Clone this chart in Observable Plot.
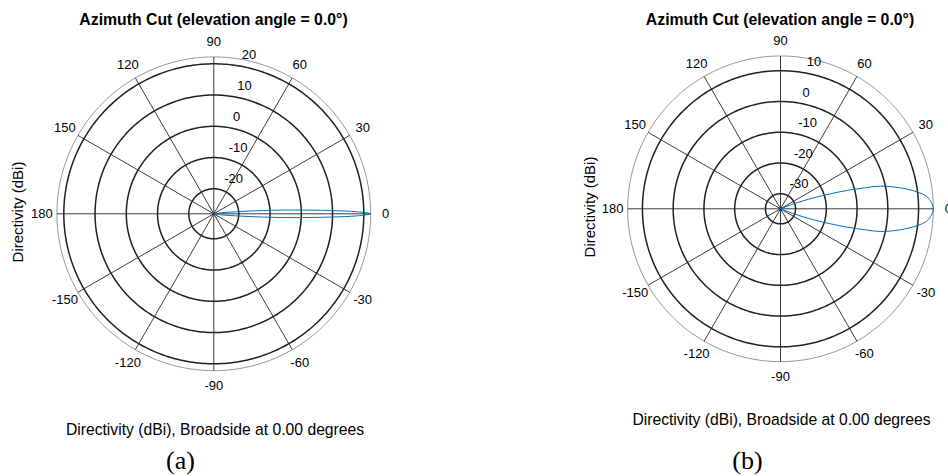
<!DOCTYPE html>
<html><head><meta charset="utf-8">
<script src="https://cdn.jsdelivr.net/npm/d3@7"></script>
<script src="https://cdn.jsdelivr.net/npm/@observablehq/plot@0.6"></script>
<style>
body{margin:0;background:#fff;}
#wrap{position:relative;width:948px;height:476px;overflow:hidden;font-family:"Liberation Sans",Arial,sans-serif;color:#000;background:#fff;}
.panel{position:absolute;top:0;width:474px;height:476px;}
.panel svg{position:absolute;left:0;top:0;overflow:visible;}
.t{position:absolute;white-space:nowrap;transform:translate(-50%,-50%);line-height:1;}
.title{font-weight:bold;font-size:15.8px;}
.ylab{font-size:15px;transform:translate(-50%,-50%) rotate(-90deg);}
.cap{font-size:15.7px;}
.tag{font-family:"Liberation Serif","Times New Roman",serif;font-size:26px;}
</style></head><body><div id="wrap"></div>
<script>
// ---- data ----
const angleTicks = [0, 30, 60, 90, 120, 150, 180, -150, -120, -90, -60, -30];
const angleTickLabels = ["0", "30", "60", "90", "120", "150", "180", "-150", "-120", "-90", "-60", "-30"];

const ringTicksA = [-20, -10, 0, 10, 20];
const magLimitsA = [-28, 22.2];
const azimuthA = [-10, -8, -4.9, -3.5, -2.7, -1.6, -0.8, 0, 0.8, 1.6, 2.7, 3.5, 4.9, 8, 10];
const directivityA = [-28, -25.7, -19.3, -9.7, -2.4, 9.4, 18, 22.2, 18, 9.4, -2.4, -9.7, -19.3, -25.7, -28];

const ringTicksB = [-30, -20, -10, 0, 10];
const magLimitsB = [-34.9, 14.8];
const azimuthB = [-22, -20.6, -18.3, -16.7, -15.4, -13.9, -12.8, -9.9, -7, -4.6, 0, 4.6, 7, 9.9, 12.8, 13.9, 15.4, 16.7, 18.3, 20.6, 22];
const directivityB = [-34.9, -30.3, -23.5, -17.9, -12.4, -6.4, -1.6, 4.7, 9.9, 13.0, 14.8, 13.0, 9.9, 4.7, -1.6, -6.4, -12.4, -17.9, -23.5, -30.3, -34.9];

const titleText = "Azimuth Cut (elevation angle = 0.0°)";
const yLabelText = "Directivity (dBi)";
const captionText = "Directivity (dBi), Broadside at 0.00 degrees";

// ---- drawing ----
const W = 474, H = 476;
const rad = d => d * Math.PI / 180;

function polarPanel(cfg) {
  const [mn, mx] = cfg.limits;
  const k = cfg.pxPerDb;
  const pol = (db, deg) => ({x: (db - mn) * Math.cos(rad(deg)), y: (db - mn) * Math.sin(rad(deg))});
  const circle = (db) => d3.range(0, 361, 1).map(a => pol(db, a));
  const rings = cfg.rings.map(v => circle(v));
  const outer = circle(mx);
  const spokes = cfg.angles.map(a => { const e = pol(mx, a); return {x1: 0, y1: 0, x2: e.x, y2: e.y}; });
  const angLabels = cfg.angles.map((a, i) => ({...pol(mx + 15 / k, a), label: cfg.angleLabels[i]}));
  const ringLabels = cfg.rings.map(v => ({...pol(v, 82), label: String(v)}));
  const pattern = cfg.az.map((a, i) => pol(cfg.dir[i], a));
  const cx = cfg.cx, cy = cfg.cy;
  return Plot.plot({
    width: W, height: H, margin: 0,
    x: {domain: [-cx / k, (W - cx) / k], axis: null},
    y: {domain: [-(H - cy) / k, cy / k], axis: null},
    style: {fontFamily: "'Liberation Sans', Arial, sans-serif", fontSize: "13px", background: "transparent", overflow: "visible", color: "#000"},
    marks: [
      Plot.line(outer, {x: "x", y: "y", stroke: "#6a6a6a", strokeWidth: 0.7}),
      ...rings.map(r => Plot.line(r, {x: "x", y: "y", stroke: "#202020", strokeWidth: 1.5})),
      Plot.link(spokes, {x1: "x1", y1: "y1", x2: "x2", y2: "y2", stroke: "#262626", strokeWidth: 0.9}),
      Plot.line(pattern, {x: "x", y: "y", stroke: "#0072BD", strokeWidth: 1, curve: "catmull-rom"}),
      Plot.text(angLabels, {x: "x", y: "y", text: "label", fill: "#000", fontSize: 13}),
      Plot.text(ringLabels, {x: "x", y: "y", text: "label", fill: "#000", fontSize: 13, textAnchor: "start", dx: 7, dy: -10})
    ]
  });
}

function addText(panel, cls, txt, x, y) {
  const d = document.createElement("div");
  d.className = "t " + cls;
  d.textContent = txt;
  d.style.left = x + "px";
  d.style.top = y + "px";
  panel.appendChild(d);
}

const wrap = document.getElementById("wrap");
const panels = [
  {left: 0, cx: 213.3, cy: 213.3, pxPerDb: 3.125, limits: magLimitsA, rings: ringTicksA, az: azimuthA, dir: directivityA, tag: "(a)",
   title: [213.5, 20], ylab: [17, 211.5], cap: [215, 430], tagPos: [180.5, 461]},
  {left: 474, cx: 306, cy: 208.3, pxPerDb: 3.075, limits: magLimitsB, rings: ringTicksB, az: azimuthB, dir: directivityB, tag: "(b)",
   title: [306, 20], ylab: [115, 206.5], cap: [307.5, 420], tagPos: [273.5, 461]}
];
for (const p of panels) {
  const div = document.createElement("div");
  div.className = "panel";
  div.style.left = p.left + "px";
  wrap.appendChild(div);
  div.appendChild(polarPanel({...p, angles: angleTicks, angleLabels: angleTickLabels}));
  addText(div, "title", titleText, ...p.title);
  addText(div, "ylab", yLabelText, ...p.ylab);
  addText(div, "cap", captionText, ...p.cap);
  addText(div, "tag", p.tag, ...p.tagPos);
}
</script></body></html>
